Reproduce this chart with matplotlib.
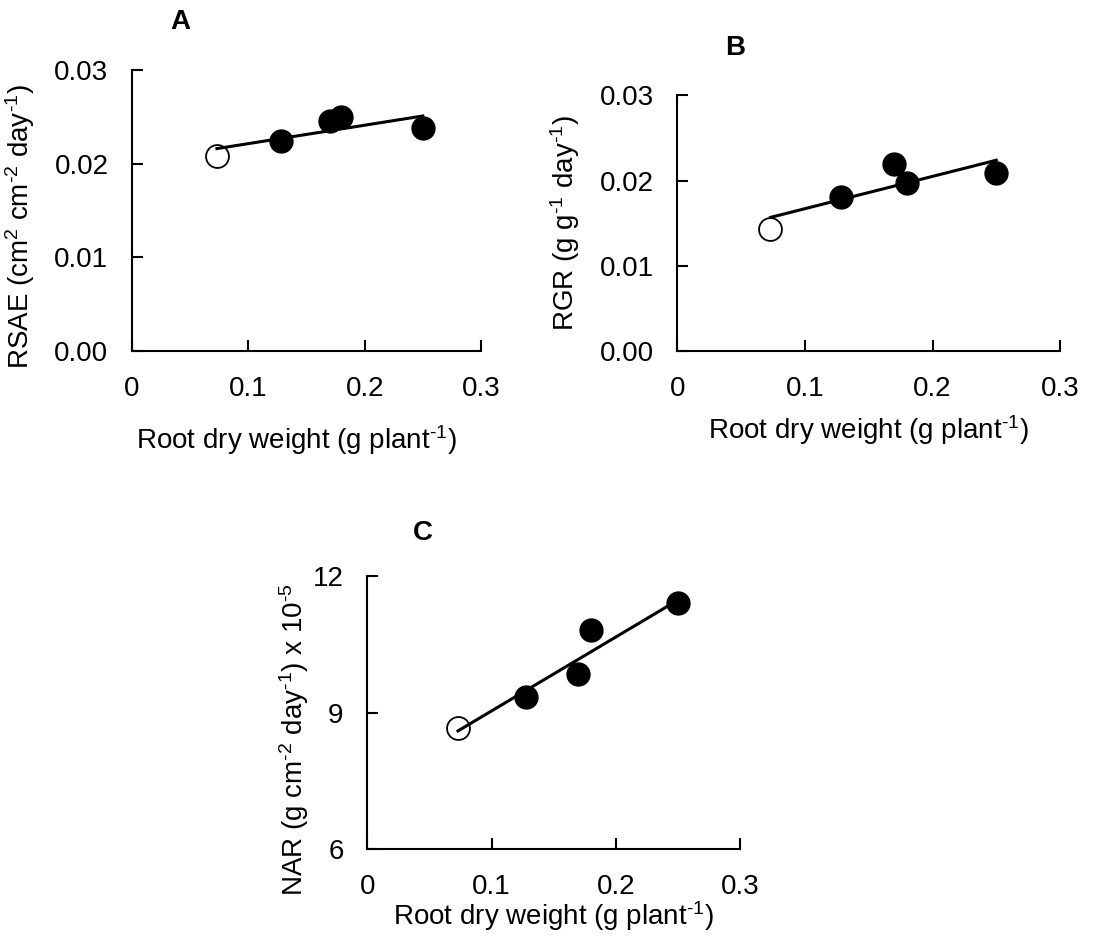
import matplotlib
matplotlib.use("Agg")
import matplotlib.pyplot as plt
import numpy as np

plt.rcParams["font.family"] = ["Liberation Sans", "DejaVu Sans"]
plt.rcParams["mathtext.fontset"] = "custom"
plt.rcParams["mathtext.rm"] = "Liberation Sans"
plt.rcParams["mathtext.it"] = "Liberation Sans:italic"

# root dry weight (g plant-1); first point is the open-circle treatment
ROOT_DW = [0.073, 0.128, 0.170, 0.180, 0.250]
RSAE = [0.0208, 0.0224, 0.0246, 0.0250, 0.0238]
RGR = [0.0143, 0.0181, 0.0219, 0.0197, 0.0209]
NAR = [8.66, 9.34, 9.85, 10.82, 11.41]

X_TICKS = [0, 0.1, 0.2, 0.3]
X_TICKLABELS = ["0", "0.1", "0.2", "0.3"]
RATE_TICKS = [0.0, 0.01, 0.02, 0.03]
RATE_TICKLABELS = ["0.00", "0.01", "0.02", "0.03"]
NAR_TICKS = [6, 9, 12]
NAR_TICKLABELS = ["6", "9", "12"]

XLAB = r"Root dry weight (g plant$^{\text{-1}}$)"
FS = 20


def _panel(ax, y, yticks, yticklabels, ylabel, ylab_xy, xlab_xy):
    x = np.asarray(ROOT_DW)
    y = np.asarray(y)
    k, b = np.polyfit(x, y, 1)
    xl = np.array([x.min(), x.max()])
    ax.plot(x[:1], y[:1], "o", ms=16.5, mfc="white", mec="black", mew=1.3, zorder=3)
    ax.plot(x[1:], y[1:], "o", ms=16.5, mfc="black", mec="black", zorder=3)
    ax.plot(xl, k * xl + b, color="black", lw=2.2, zorder=4)
    ax.set_xlim(0, 0.3)
    ax.set_ylim(yticks[0], yticks[-1])
    ax.set_xticks(X_TICKS)
    ax.set_xticklabels(X_TICKLABELS)
    ax.set_yticks(yticks)
    ax.set_yticklabels(yticklabels)
    for s in ["top", "right"]:
        ax.spines[s].set_visible(False)
    for s in ["left", "bottom"]:
        ax.spines[s].set_linewidth(1.5)
    ax.tick_params(axis="both", direction="in", length=8, width=1.5, labelsize=FS)
    ax.tick_params(axis="y", pad=17)
    ax.tick_params(axis="x", pad=18)
    ax.set_ylabel(ylabel, fontsize=FS)
    ax.set_xlabel(XLAB, fontsize=FS)
    ax.yaxis.set_label_coords(*ylab_xy)
    ax.xaxis.set_label_coords(*xlab_xy)


fig = plt.figure(figsize=(11.03, 9.39), dpi=100)
axA = fig.add_axes([0.1197, 0.6262, 0.3164, 0.2993])
axB = fig.add_axes([0.6141, 0.6262, 0.3470, 0.2723])
axC = fig.add_axes([0.3330, 0.0958, 0.3379, 0.2905])

_panel(axA, RSAE, RATE_TICKS, RATE_TICKLABELS,
       r"RSAE (cm$^{\text{2}}$ cm$^{\text{-2}}$ day$^{\text{-1}}$)", (-0.272, 0.443), (0.47, -0.256))
_panel(axB, RGR, RATE_TICKS, RATE_TICKLABELS,
       r"RGR (g g$^{\text{-1}}$ day$^{\text{-1}}$)", (-0.25, 0.5), (0.5, -0.245))
_panel(axC, NAR, NAR_TICKS, NAR_TICKLABELS,
       r"NAR (g cm$^{\text{-2}}$ day$^{\text{-1}}$) x 10$^{\text{-5}}$", (-0.15, 0.403), (0.5, -0.185))

fig.text(180 / 1103, 1 - 22 / 939, "A", fontsize=FS, fontweight="bold", ha="center", va="center")
fig.text(735 / 1103, 1 - 48 / 939, "B", fontsize=FS, fontweight="bold", ha="center", va="center")
fig.text(423 / 1103, 1 - 533 / 939, "C", fontsize=FS, fontweight="bold", ha="center", va="center")

fig.savefig("out.png", dpi=100)
plt.close(fig)
